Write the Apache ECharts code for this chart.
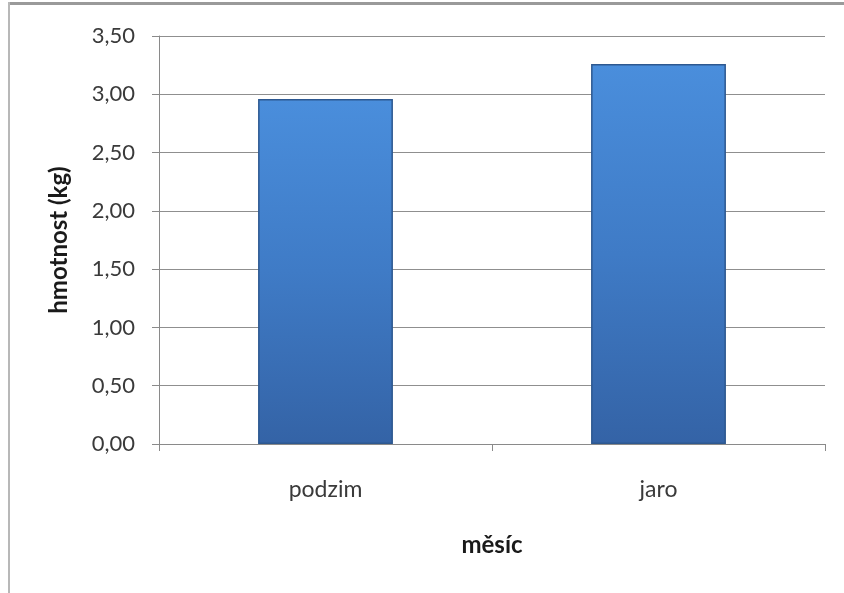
<!DOCTYPE html>
<html>
<head>
<meta charset="utf-8">
<title>hmotnost</title>
<script src="https://cdn.jsdelivr.net/npm/echarts@6/dist/echarts.min.js"></script>
<style>
  html, body { margin: 0; padding: 0; background: #ffffff; }
  #chart { width: 844px; height: 593px; }
</style>
</head>
<body>
<div id="chart"></div>
<script>
// Season categories and mean weight per season (kg)
const categories = ['podzim', 'jaro'];
const weights = [2.96, 3.26];

// Y axis range and step
const yMin = 0;
const yMax = 3.5;
const yStep = 0.5;

const fontFamily = 'Lato, "Open Sans", "DejaVu Sans", sans-serif';

const chart = echarts.init(document.getElementById('chart'), null, { renderer: 'canvas' });

chart.setOption({
  animation: false,
  backgroundColor: '#ffffff',
  grid: { left: 159, right: 19, top: 36, bottom: 149 },
  graphic: [
    // frame lines along top and left edges
    { type: 'rect', shape: { x: 8, y: 2, width: 836, height: 3 }, style: { fill: '#9a9a9a' }, silent: true },
    { type: 'rect', shape: { x: 8, y: 2, width: 2, height: 591 }, style: { fill: '#b8b8b8' }, silent: true }
  ],
  xAxis: {
    type: 'category',
    data: categories,
    name: 'měsíc',
    nameLocation: 'middle',
    nameGap: 89,
    nameTextStyle: { fontFamily, fontSize: 24, fontWeight: 'bold', color: '#1a1a1a' },
    axisLine: { lineStyle: { color: '#8a8a8a', width: 1 } },
    axisTick: { show: true, length: 7, lineStyle: { color: '#8a8a8a' } },
    axisLabel: { margin: 34, fontFamily, fontSize: 23, color: '#3a3a3a' },
    splitLine: { show: false }
  },
  yAxis: {
    type: 'value',
    min: yMin,
    max: yMax,
    interval: yStep,
    name: 'hmotnost (kg)',
    nameLocation: 'middle',
    nameRotate: 90,
    nameGap: 88,
    nameTextStyle: { fontFamily, fontSize: 24, fontWeight: 'bold', color: '#1a1a1a' },
    axisLine: { show: true, lineStyle: { color: '#8a8a8a', width: 1 } },
    axisTick: { show: true, length: 7, lineStyle: { color: '#8a8a8a' } },
    axisLabel: {
      margin: 24,
      fontFamily,
      fontSize: 22,
      color: '#3a3a3a',
      formatter: v => v.toFixed(2).replace('.', ',')
    },
    splitLine: { show: true, lineStyle: { color: '#8f8f8f', width: 1 } }
  },
  series: [{
    type: 'bar',
    data: weights,
    barWidth: '40.5%',
    itemStyle: {
      color: new echarts.graphic.LinearGradient(0, 0, 0, 1, [
        { offset: 0, color: '#4a8edc' },
        { offset: 0.5, color: '#3f7bc6' },
        { offset: 1, color: '#3463a6' }
      ]),
      borderColor: '#2d5890',
      borderWidth: 1.5
    }
  }]
});
</script>
</body>
</html>
